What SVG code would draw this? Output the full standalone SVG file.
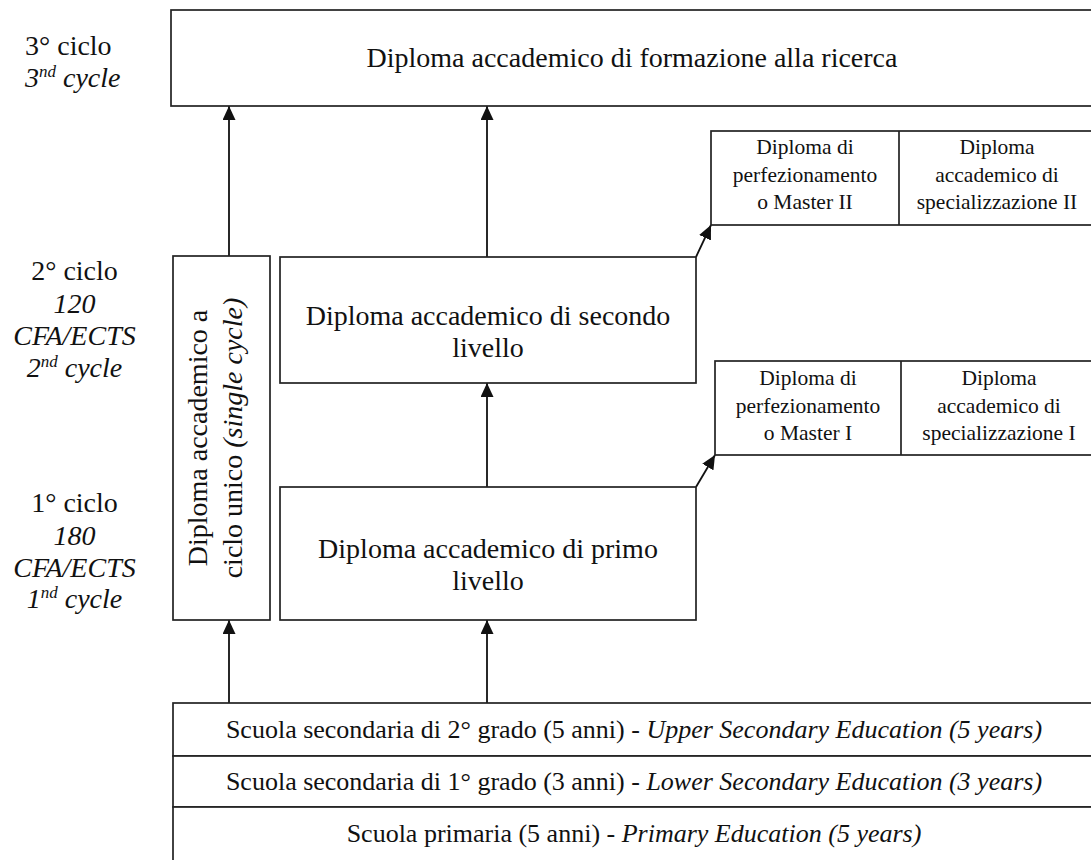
<svg xmlns="http://www.w3.org/2000/svg" width="1091" height="860" viewBox="0 0 1091 860">
<defs>
<style>
.bx{fill:#fff;stroke:#222;stroke-width:1.7}
.ln{fill:none;stroke:#111;stroke-width:1.8}
text{font-family:"Liberation Serif","Times New Roman",serif;fill:#111}
.t28{font-size:28px}
.t26{font-size:26px}
.t21{font-size:21.5px}
.c{text-anchor:middle}
.i{font-style:italic}
</style>
<marker id="ah" markerUnits="userSpaceOnUse" markerWidth="15" markerHeight="14" refX="14" refY="6.5" orient="auto">
<path d="M0,0 L14,6.5 L0,13 z" fill="#111"/>
</marker>
</defs>
<rect width="1091" height="860" fill="#fff"/>

<g id="labels">
<text class="t28" x="25" y="55">3° ciclo</text>
<text class="t28 i" x="25" y="87">3<tspan font-size="17" dy="-10">nd</tspan><tspan dy="10"> cycle</tspan></text>
<text class="t28 c" x="74.5" y="280">2° ciclo</text>
<text class="t28 c i" x="74.5" y="313">120</text>
<text class="t28 c i" x="74.5" y="345">CFA/ECTS</text>
<text class="t28 c i" x="74.5" y="377">2<tspan font-size="17" dy="-10">nd</tspan><tspan dy="10"> cycle</tspan></text>
<text class="t28 c" x="74.5" y="512">1° ciclo</text>
<text class="t28 c i" x="74.5" y="545">180</text>
<text class="t28 c i" x="74.5" y="577">CFA/ECTS</text>
<text class="t28 c i" x="74.5" y="608">1<tspan font-size="17" dy="-10">nd</tspan><tspan dy="10"> cycle</tspan></text>
</g>

<g id="connectors">
<line class="ln" x1="229" y1="256" x2="229" y2="106" marker-end="url(#ah)"/>
<line class="ln" x1="487" y1="257" x2="487" y2="106" marker-end="url(#ah)"/>
<line class="ln" x1="487" y1="487" x2="487" y2="383" marker-end="url(#ah)"/>
<line class="ln" x1="229" y1="703" x2="229" y2="620" marker-end="url(#ah)"/>
<line class="ln" x1="487" y1="703" x2="487" y2="620" marker-end="url(#ah)"/>
<line class="ln" x1="696" y1="257" x2="711" y2="225" marker-end="url(#ah)"/>
<line class="ln" x1="696" y1="487" x2="715" y2="455" marker-end="url(#ah)"/>
</g>

<g id="node-ricerca">
<rect class="bx" x="171" y="10" width="924" height="96"/>
<text class="t28 c" x="632" y="67">Diploma accademico di formazione alla ricerca</text>
</g>

<g id="node-ciclo-unico">
<rect class="bx" x="173" y="256" width="97" height="364"/>
<g transform="translate(221.5,438) rotate(-90)">
<text class="t28 c" x="0" y="-15">Diploma accademico a</text>
<text class="t28 c" x="0" y="20">ciclo unico <tspan class="i">(single cycle)</tspan></text>
</g>
</g>

<g id="node-secondo">
<rect class="bx" x="280" y="257" width="416" height="126"/>
<text class="t28 c" x="488" y="325">Diploma accademico di secondo</text>
<text class="t28 c" x="488" y="357">livello</text>
</g>

<g id="node-primo">
<rect class="bx" x="280" y="487" width="416" height="133"/>
<text class="t28 c" x="488" y="558">Diploma accademico di primo</text>
<text class="t28 c" x="488" y="590">livello</text>
</g>

<g id="node-master2">
<rect class="bx" x="711" y="131" width="384" height="94"/>
<line class="bx" x1="899" y1="131" x2="899" y2="225"/>
<text class="t21 c" x="805" y="154">Diploma di</text>
<text class="t21 c" x="805" y="182">perfezionamento</text>
<text class="t21 c" x="805" y="209">o Master II</text>
<text class="t21 c" x="997" y="154">Diploma</text>
<text class="t21 c" x="997" y="182">accademico di</text>
<text class="t21 c" x="997" y="209">specializzazione II</text>
</g>

<g id="node-master1">
<rect class="bx" x="715" y="361" width="380" height="94"/>
<line class="bx" x1="901" y1="361" x2="901" y2="455"/>
<text class="t21 c" x="808" y="385">Diploma di</text>
<text class="t21 c" x="808" y="413">perfezionamento</text>
<text class="t21 c" x="808" y="440">o Master I</text>
<text class="t21 c" x="999" y="385">Diploma</text>
<text class="t21 c" x="999" y="413">accademico di</text>
<text class="t21 c" x="999" y="440">specializzazione I</text>
</g>

<g id="node-sec2">
<rect class="bx" x="173" y="703" width="922" height="53"/>
<text class="t26 c" x="634" y="738">Scuola secondaria di 2° grado (5 anni) - <tspan class="i">Upper Secondary Education (5 years)</tspan></text>
</g>
<g id="node-sec1">
<rect class="bx" x="173" y="756" width="922" height="51"/>
<text class="t26 c" x="634" y="790">Scuola secondaria di 1° grado (3 anni) - <tspan class="i">Lower Secondary Education (3 years)</tspan></text>
</g>
<g id="node-primaria">
<rect class="bx" x="173" y="807" width="922" height="60"/>
<text class="t26 c" x="634" y="842">Scuola primaria (5 anni) - <tspan class="i">Primary Education (5 years)</tspan></text>
</g>
</svg>
